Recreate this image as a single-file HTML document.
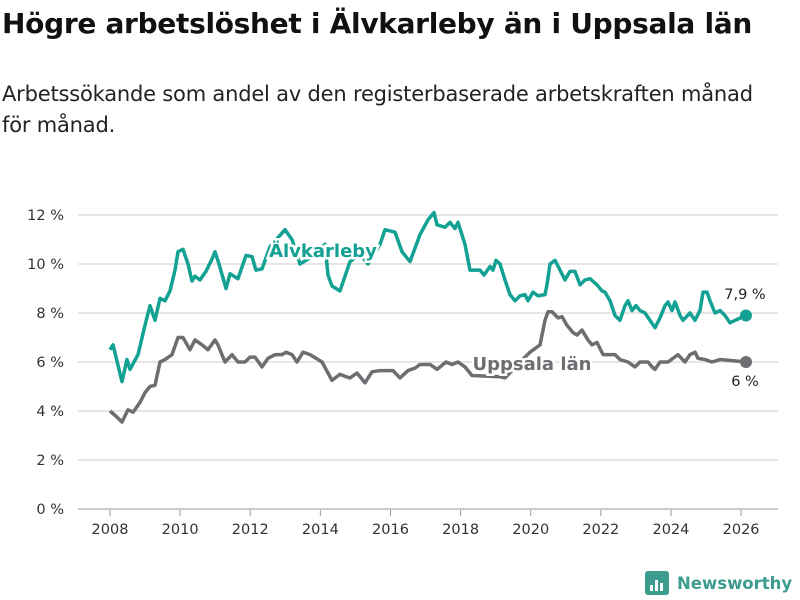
<!DOCTYPE html>
<html><head><meta charset="utf-8"><style>
body{margin:0;background:#fff;font-family:"DejaVu Sans","Liberation Sans",sans-serif;}
#wrap{position:relative;width:800px;height:600px;overflow:hidden}
h1{position:absolute;left:2px;top:7px;margin:0;font-size:28px;font-weight:bold;color:#111;letter-spacing:-0.3px;white-space:nowrap}
p{position:absolute;left:2px;top:79px;margin:0;font-size:21px;line-height:31px;color:#222;width:775px;letter-spacing:-0.2px}
</style></head><body>
<div id="wrap">
<h1>Högre arbetslöshet i Älvkarleby än i Uppsala län</h1>
<p>Arbetssökande som andel av den registerbaserade arbetskraften månad<br>för månad.</p>
<svg id="chart" width="800" height="600" style="position:absolute;left:0;top:0"></svg>
</div>
<script>
const yTicks=[0,2,4,6,8,10,12];
const xTicks=[2008,2010,2012,2014,2016,2018,2020,2022,2024,2026];
const alvX=[110,113,122,127,130,138,145,150,155,160,165,170,175,178,183,188,192,195,200,206,212,215,219,226,230,238,246,252,256,262,270,285,292,300,310,325,328,332,340,350,360,368,380,385,395,402,410,420,428,432,434,437,445,450,455,458,465,470,480,484,490,493,496,500,505,510,515,520,525,528,533,538,545,547,550,555,560,565,570,575,580,585,590,597,602,605,610,615,620,625,628,632,636,640,645,650,655,660,665,668,672,675,680,683,690,695,700,703,707,710,715,720,725,730,735,746].map(x=>+(2008+(x-110)/35.06).toFixed(3));
const alvVals=[6.5,6.7,5.2,6.1,5.7,6.3,7.5,8.3,7.7,8.6,8.5,8.9,9.75,10.5,10.6,10.0,9.3,9.5,9.35,9.7,10.2,10.5,10.0,9.0,9.6,9.4,10.35,10.3,9.75,9.8,10.7,11.4,11.0,10.0,10.25,10.8,9.55,9.1,8.9,10.1,10.4,10.0,10.8,11.4,11.3,10.5,10.1,11.2,11.8,12.0,12.1,11.6,11.5,11.7,11.45,11.7,10.8,9.75,9.75,9.55,9.9,9.75,10.15,10.0,9.35,8.75,8.5,8.7,8.75,8.5,8.85,8.7,8.75,9.15,10.0,10.15,9.75,9.35,9.7,9.7,9.15,9.35,9.4,9.15,8.9,8.85,8.5,7.9,7.7,8.3,8.5,8.1,8.3,8.1,8.0,7.7,7.4,7.8,8.3,8.45,8.1,8.45,7.9,7.7,8.0,7.7,8.1,8.85,8.85,8.5,8.0,8.1,7.9,7.6,7.7,7.9];
const upsX=[110,117,122,128,133,140,145,150,155,160,165,172,178,183,190,195,202,208,215,218,225,232,238,245,250,255,262,268,275,282,286,292,297,303,310,318,322,332,340,346,350,357,365,372,380,393,400,408,415,420,430,437,446,452,458,465,472,500,505,512,520,530,540,545,548,552,558,562,567,573,577,582,588,592,597,603,610,615,620,628,635,640,648,652,655,660,668,678,685,690,695,698,705,712,720,746].map(x=>+(2008+(x-110)/35.06).toFixed(3));
const upsVals=[4.0,3.75,3.55,4.05,3.95,4.35,4.75,5.0,5.05,6.0,6.1,6.3,7.0,7.0,6.5,6.9,6.7,6.5,6.9,6.7,6.0,6.3,6.0,6.0,6.2,6.2,5.8,6.15,6.3,6.3,6.4,6.3,6.0,6.4,6.3,6.1,6.0,5.25,5.5,5.4,5.35,5.55,5.15,5.6,5.65,5.65,5.35,5.65,5.75,5.9,5.9,5.7,6.0,5.9,6.0,5.8,5.45,5.4,5.35,5.65,6.0,6.4,6.7,7.7,8.05,8.05,7.8,7.85,7.5,7.2,7.1,7.3,6.9,6.7,6.8,6.3,6.3,6.3,6.1,6.0,5.8,6.0,6.0,5.8,5.7,6.0,6.0,6.3,6.0,6.3,6.4,6.15,6.1,6.0,6.1,6.0];
const ns="http://www.w3.org/2000/svg";
const svg=document.getElementById('chart');
const X=y=>110+(y-2008)*35.06, Y=v=>509-v*24.5;
function el(t,a,p){const e=document.createElementNS(ns,t);for(const k in a)e.setAttribute(k,a[k]);(p||svg).appendChild(e);return e;}
yTicks.forEach(v=>{
 const l=el('line',{x1:78,x2:778,y1:Y(v),y2:Y(v),stroke:v===0?'#bbb':'#ddd','stroke-width':1.5});
 
 
 const t=el('text',{x:64,y:Y(v)+5,'text-anchor':'end','font-size':14.5,fill:'#333'});t.textContent=v+' %';
 
 
});
xTicks.forEach(yr=>{
 const l=el('line',{x1:X(yr),x2:X(yr),y1:510,y2:516,stroke:'#999','stroke-width':1});
 
 
 const t=el('text',{x:X(yr),y:534,'text-anchor':'middle','font-size':14.5,fill:'#333'});t.textContent=yr;
 
 
});
function line(xs,vs,c,name){
 const p=el('polyline',{points:xs.map((x,i)=>X(x)+','+Y(vs[i])).join(' '),fill:'none',stroke:c,'stroke-width':3.5,'stroke-linejoin':'round'});
 
 
 const d=el('circle',{cx:X(xs[xs.length-1]),cy:Y(vs[vs.length-1]),r:6,fill:c});
 
 
}
line(upsX,upsVals,'#6e6d72','uppsala-line');
line(alvX,alvVals,'#12a193','alvkarleby-line');
function lab(x,y,txt,c,name,sz,w,halo){
 const t=el('text',{x:x,y:y,'font-size':sz,'font-weight':w,fill:c,stroke:halo?'#fff':'none','stroke-width':halo?5:0,'paint-order':'stroke','text-anchor':'middle'});t.textContent=txt;
 
 
}
lab(323,257,'Älvkarleby','#12a193','alvkarleby-label',18,'bold',true);
lab(532,370,'Uppsala län','#6e6d72','uppsala-label',18,'bold',true);
lab(745,299,'7,9 %','#222','alvkarleby-value-label',14.5,'normal',false);
lab(745,386,'6 %','#222','uppsala-value-label',14.5,'normal',false);
const g=el('g',{});


el('rect',{x:645,y:571,width:24,height:24,rx:3,fill:'#3d9c8f'},g);
[[650,585,3,6],[655,580,3,11],[660,583,3,8]].forEach(r=>el('rect',{x:r[0],y:r[1],width:r[2],height:r[3],fill:'#fff'},g));
const lt=el('text',{x:677,y:589,'font-size':16.5,'font-weight':'bold',fill:'#3d9c8f'},g);lt.textContent='Newsworthy';
</script>
</body></html>
